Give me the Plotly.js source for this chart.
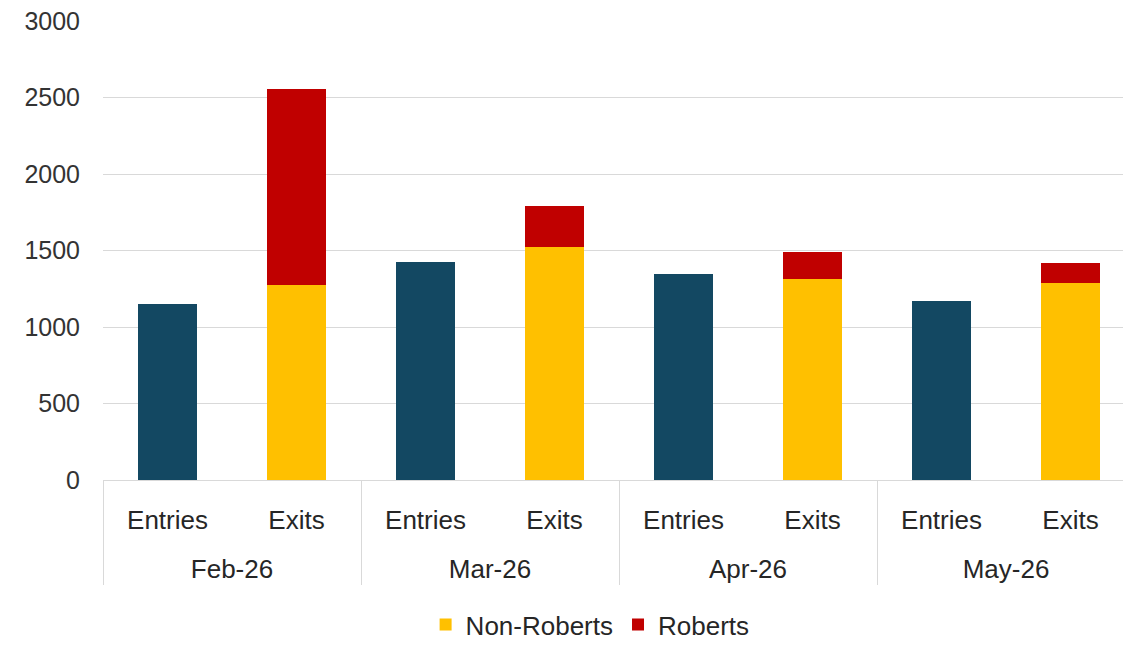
<!DOCTYPE html>
<html>
<head>
<meta charset="utf-8">
<script src="https://cdn.plot.ly/plotly-3.0.1.min.js"></script>
<style>
html,body{margin:0;padding:0;overflow:hidden;background:#fff;}
#chart{width:1160px;height:648px;}
</style>
</head>
<body>
<div id="chart"></div>
<script>
const months = ["Feb-26", "Mar-26", "Apr-26", "May-26"];
const types = ["Entries", "Exits"];
const entries = [1150, 1428, 1345, 1170];
const nonRoberts = [1275, 1522, 1312, 1285];
const roberts = [1280, 270, 178, 135];

const outer = [], inner = [];
months.forEach(m => types.forEach(t => { outer.push(" <br>" + m); inner.push(t); }));
const entriesY = [], nrY = [], rY = [];
months.forEach((m, i) => {
  entriesY.push(entries[i], null);
  nrY.push(null, nonRoberts[i]);
  rY.push(null, roberts[i]);
});

const font = {family: "Liberation Sans, Arial, sans-serif", size: 25, color: "#333333"};
const xfont = {family: "Liberation Sans, Arial, sans-serif", size: 26, color: "#262626"};

const traces = [
  {type: "bar", name: "Entries", x: [outer, inner], y: entriesY,
   marker: {color: "#134862", line: {width: 0}}, showlegend: false, hoverinfo: "x+y"},
  {type: "bar", name: "Non-Roberts", x: [outer, inner], y: nrY,
   marker: {color: "#FFC000", line: {width: 0}}},
  {type: "bar", name: "Roberts", x: [outer, inner], y: rY,
   marker: {color: "#C00000", line: {width: 0}}}
];

const layout = {
  width: 1160, height: 648,
  margin: {l: 103, r: 25, t: 21, b: 168, autoexpand: false},
  paper_bgcolor: "#ffffff", plot_bgcolor: "#ffffff",
  barmode: "stack", bargap: 0.535,
  font: font,
  xaxis: {
    type: "multicategory",
    showline: true, linecolor: "#d9d9d9", linewidth: 1,
    showdividers: true, dividercolor: "#d9d9d9", dividerwidth: 1,
    ticks: "", tickfont: xfont, showgrid: false, zeroline: false,
    ticklabelstandoff: 17, automargin: false
  },
  yaxis: {
    range: [0, 3000], dtick: 500, tick0: 0,
    showgrid: true, gridcolor: "#d9d9d9", gridwidth: 1,
    zeroline: false, showline: false, ticks: "",
    tickfont: font, ticklabelstandoff: 22, automargin: false
  },
  legend: {
    orientation: "h", x: 0.472, xanchor: "center",
    yref: "container", y: 0, yanchor: "bottom",
    font: xfont, traceorder: "normal", itemwidth: 30
  },
  showlegend: true
};

Plotly.newPlot("chart", traces, layout, {displayModeBar: false, staticPlot: true});
</script>
</body>
</html>
